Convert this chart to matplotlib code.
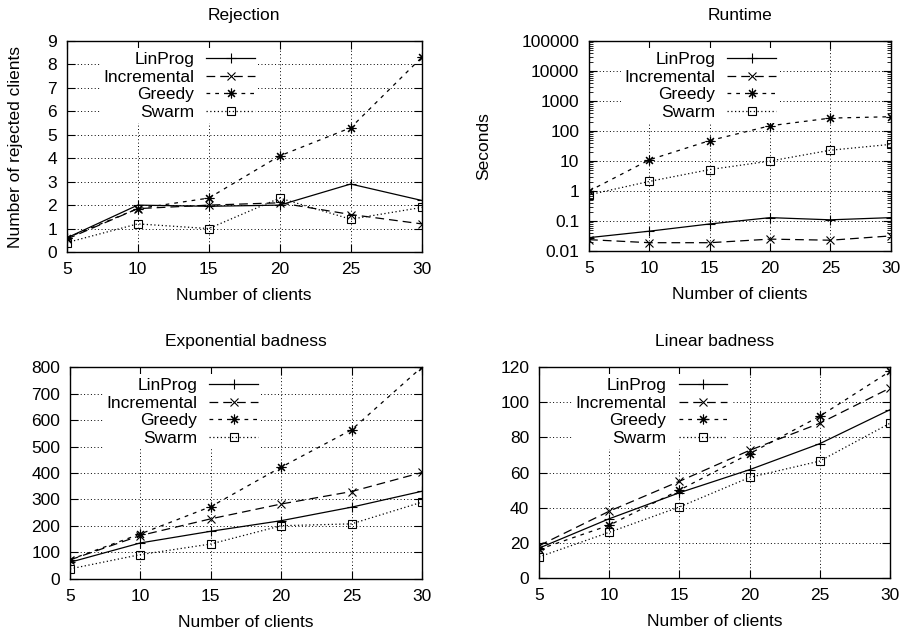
import numpy as np
import matplotlib
matplotlib.use('Agg')
from matplotlib import pyplot as plt
from matplotlib.ticker import LogLocator, NullFormatter, FixedLocator

plt.rcParams['font.family'] = ['Liberation Sans', 'DejaVu Sans']
plt.rcParams['font.size'] = 12.5

# %%
#
# DATA
#
clients = [5, 10, 15, 20, 25, 30]
names = ['LinProg', 'Incremental', 'Greedy', 'Swarm']

rej_linprog = [0.6, 2.0, 1.95, 2.0, 2.9, 2.2]
rej_incremental = [0.55, 1.85, 2.0, 2.1, 1.6, 1.2]
rej_greedy = [0.6, 1.85, 2.3, 4.1, 5.3, 8.3]
rej_swarm = [0.4, 1.2, 1.0, 2.3, 1.4, 1.9]

run_linprog = [0.028, 0.046, 0.08, 0.13, 0.11, 0.13]
run_incremental = [0.024, 0.019, 0.019, 0.025, 0.023, 0.032]
run_greedy = [1.0, 11, 48, 150, 270, 300]
run_swarm = [0.75, 2.1, 5.2, 10, 23, 36]

exp_linprog = [63, 136, 180, 220, 271, 331]
exp_incremental = [72, 164, 227, 283, 330, 402]
exp_greedy = [73, 170, 273, 422, 563, 800]
exp_swarm = [38, 92, 132, 201, 208, 290]

lin_linprog = [17, 33.7, 48.5, 61.6, 76.4, 95.7]
lin_incremental = [18.4, 38, 55, 72.6, 88, 108]
lin_greedy = [16.3, 30, 50, 70.7, 92, 117.5]
lin_swarm = [12, 26, 40.4, 57.2, 66.5, 88]

# %%
#
# STYLE
#
styles = [dict(ls='-', marker='+', ms=7),
          dict(ls=(0, (7, 4)), marker='x', ms=6),
          dict(ls=(0, (3, 4)), marker=(8, 2, 0), ms=7),
          dict(ls=(0, (1, 2)), marker='s', ms=6, mfc='none')]


def draw_panel(ax, series, title, legend_x):
    for name, vals, st in zip(names, series, styles):
        ax.plot(clients, vals, color='black', lw=0.9, mew=0.8,
                label=name, **st)
    ax.set_xlim(5, 30)
    ax.set_xticks(clients)
    ax.set_title(title, fontsize=12.5, pad=15)
    ax.set_xlabel('Number of clients', labelpad=8)
    ax.grid(True, which='major', color='black', lw=0.7, ls=(0, (1, 2.5)))
    ax.set_axisbelow(True)
    ax.tick_params(which='both', direction='in', top=True, right=True,
                   pad=7)
    ax.tick_params(which='major', length=6)
    ax.tick_params(which='minor', length=3)
    for s in ax.spines.values():
        s.set_linewidth(1.0)
    leg = ax.legend(loc='upper right', bbox_to_anchor=(legend_x, 0.965),
                    markerfirst=False, frameon=True, fancybox=False,
                    edgecolor='white', facecolor='white', framealpha=1,
                    handlelength=2.8, handletextpad=0.7, labelspacing=0.14,
                    borderpad=0.2, borderaxespad=0, fontsize=12.5)
    leg.get_frame().set_linewidth(0)
    return leg


# %%
#
# PLOT
#
fig = plt.figure(figsize=(9.09, 6.34), dpi=100)

ax1 = fig.add_axes([0.0734, 0.6025, 0.3905, 0.3328])
draw_panel(ax1, [rej_linprog, rej_incremental, rej_greedy, rej_swarm],
           'Rejection', 0.54)
ax1.set_ylim(0, 9)
ax1.set_yticks(range(0, 10))
ax1.set_ylabel('Number of rejected clients')
ax1.yaxis.set_label_coords(-0.123, 0.5)

ax2 = fig.add_axes([0.648, 0.604, 0.332, 0.3313])
ax2.set_yscale('log')
draw_panel(ax2, [run_linprog, run_incremental, run_greedy, run_swarm],
           'Runtime', 0.631)
ax2.set_ylim(0.01, 100000)
ax2.yaxis.set_major_locator(FixedLocator([0.01, 0.1, 1, 10, 100, 1000, 10000, 100000]))
ax2.set_yticklabels(['0.01', '0.1', '1', '10', '100', '1000', '10000', '100000'])
ax2.yaxis.set_minor_locator(LogLocator(base=10, subs=np.arange(2, 10), numticks=20))
ax2.yaxis.set_minor_formatter(NullFormatter())
ax2.set_ylabel('Seconds')
ax2.yaxis.set_label_coords(-0.325, 0.5)

ax3 = fig.add_axes([0.077, 0.0868, 0.3872, 0.3343])
draw_panel(ax3, [exp_linprog, exp_incremental, exp_greedy, exp_swarm],
           'Exponential badness', 0.544)
ax3.set_ylim(0, 800)
ax3.set_yticks(range(0, 801, 100))

ax4 = fig.add_axes([0.593, 0.0883, 0.386, 0.3328])
draw_panel(ax4, [lin_linprog, lin_incremental, lin_greedy, lin_swarm],
           'Linear badness', 0.546)
ax4.set_ylim(0, 120)
ax4.set_yticks(range(0, 121, 20))

fig.savefig('out.png', dpi=100)
